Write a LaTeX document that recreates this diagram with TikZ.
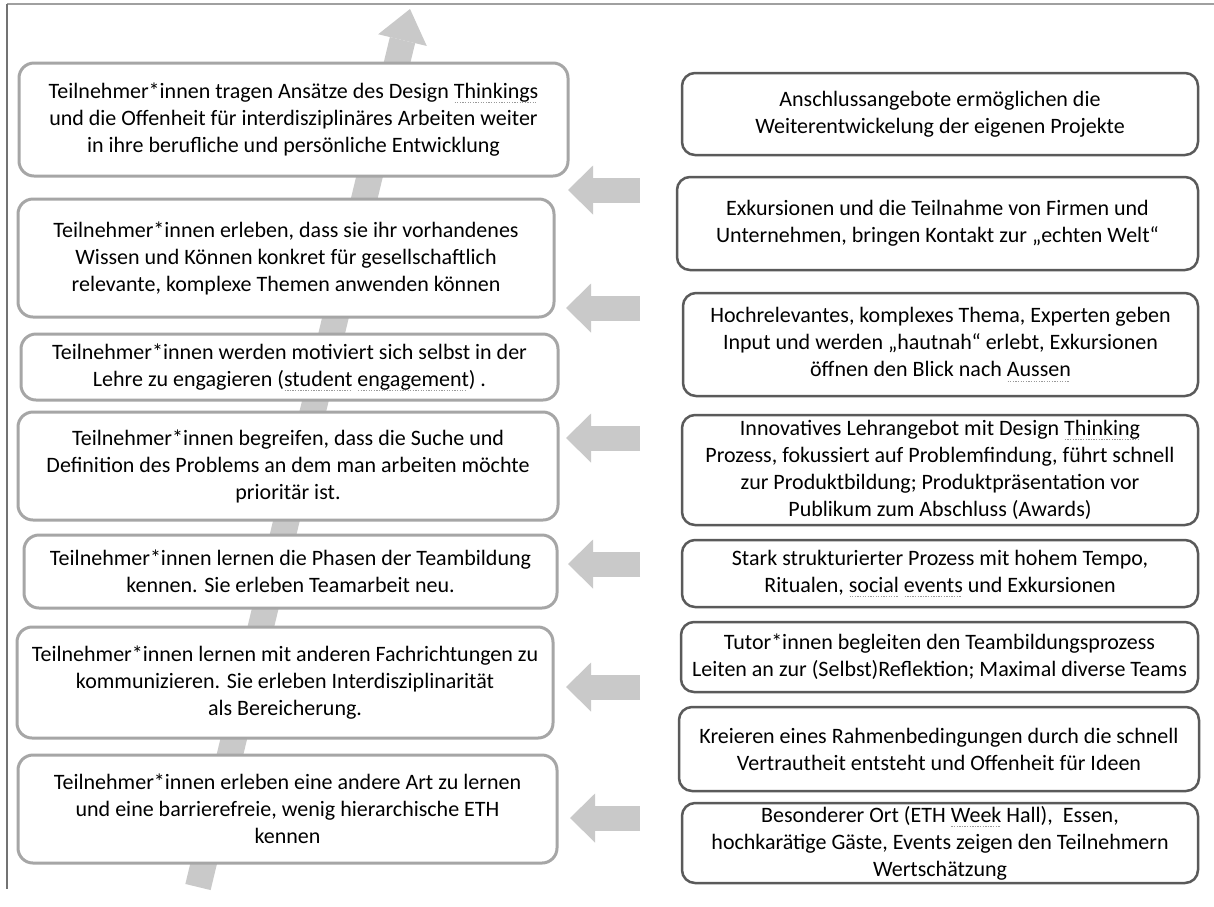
\documentclass[tikz,border=0pt]{standalone}
\usepackage{fontspec}
\setmainfont{Carlito}
\usetikzlibrary{arrows.meta}
\definecolor{arrowgray}{HTML}{C9C9C9}
\definecolor{leftborder}{HTML}{A6A6A6}
\definecolor{rightborder}{HTML}{5A5A5A}
\definecolor{frameline}{HTML}{A0A0A0}
\definecolor{spellgray}{HTML}{9A9A9A}
\newsavebox{\splbox}
\newcommand\spl[1]{\sbox{\splbox}{#1}\rlap{\raisebox{-4.5pt}{\textcolor{spellgray}{\leaders\hbox to 2.6pt{\hss\rule{1.3pt}{0.8pt}\hss}\hskip\wd\splbox}}}\usebox{\splbox}}
\tikzset{
  lbox/.style={draw=leftborder, line width=3pt, rounded corners=15pt, fill=white, align=center, inner sep=0pt},
  rbox/.style={draw=rightborder, line width=2.5pt, rounded corners=13pt, fill=white, align=center, inner sep=0pt},
  bigarrow/.style={draw=arrowgray, line width=26pt, -{Triangle[width=50pt,length=32pt,line width=0pt]}},
  sidearrow/.style={draw=arrowgray, line width=25pt, -{Triangle[width=49pt,length=25pt,line width=0pt]}}
}
\begin{document}
\begin{tikzpicture}[x=1pt,y=-1pt,font=\fontsize{22}{27}\selectfont]
\useasboundingbox (0,0) rectangle (1214,906);
\fill[white] (0,0) rectangle (1214,906);
% frame lines
\coordinate (fTL) at (7,4);
\coordinate (fTR) at (1214,4);
\coordinate (fBL) at (7,889);
\draw[frameline, line width=2pt] (fTL) -- (fTR);
\draw[black!55, line width=1.2pt] (fTL) -- (fBL);
% big diagonal arrow
\coordinate (bigtail) at (198,887);
\coordinate (bighead) at (410,9);
\draw[bigarrow] (bigtail) -- (bighead);
% left column
\node[lbox, minimum width=549pt, minimum height=113pt] (L1) at (293.5,119.5)
  {Teilnehmer*innen tragen Ansätze des Design \spl{Thinkings}\\und die Offenheit für interdisziplinäres Arbeiten weiter\\in ihre berufliche und persönliche Entwicklung};
\node[lbox, minimum width=536pt, minimum height=118pt] (L2) at (286,258)
  {Teilnehmer*innen erleben, dass sie ihr vorhandenes\\Wissen und Können konkret für gesellschaftlich\\relevante, komplexe Themen anwenden können};
\node[lbox, minimum width=537pt, minimum height=66pt] (L3) at (289.5,367)
  {Teilnehmer*innen werden motiviert sich selbst in der\\Lehre zu engagieren (\spl{student} \spl{engagement}) .};
\node[lbox, minimum width=540pt, minimum height=108pt] (L4) at (288,466)
  {Teilnehmer*innen begreifen, dass die Suche und\\Definition des Problems an dem man arbeiten möchte\\prioritär ist.};
\node[lbox, minimum width=533pt, minimum height=73pt] (L5) at (290.5,571.5)
  {Teilnehmer*innen lernen die Phasen der Teambildung\\kennen. Sie erleben Teamarbeit neu.};
\node[lbox, minimum width=536pt, minimum height=111pt] (L6) at (285,682.5)
  {Teilnehmer*innen lernen mit anderen Fachrichtungen zu\\kommunizieren. Sie erleben Interdisziplinarität\\als Bereicherung.};
\node[lbox, minimum width=539pt, minimum height=108pt] (L7) at (287.5,809)
  {Teilnehmer*innen erleben eine andere Art zu lernen\\und eine barrierefreie, wenig hierarchische ETH\\kennen};
% right column
\node[rbox, minimum width=516pt, minimum height=82pt] (R1) at (940,114)
  {Anschlussangebote ermöglichen die\\Weiterentwickelung der eigenen Projekte};
\node[rbox, minimum width=521pt, minimum height=93pt] (R2) at (937.5,223.5)
  {Exkursionen und die Teilnahme von Firmen und\\Unternehmen, bringen Kontakt zur „echten Welt“};
\node[rbox, minimum width=515pt, minimum height=103pt] (R3) at (940.5,344.5)
  {Hochrelevantes, komplexes Thema, Experten geben\\Input und werden „hautnah“ erlebt, Exkursionen\\öffnen den Blick nach \spl{Aussen}};
\node[rbox, minimum width=516pt, minimum height=110pt] (R4) at (940,470)
  {Innovatives Lehrangebot mit Design \spl{Thinking}\\Prozess, fokussiert auf Problemfindung, führt schnell\\zur Produktbildung; Produktpräsentation vor\\Publikum zum Abschluss (Awards)};
\node[rbox, minimum width=516pt, minimum height=67pt] (R5) at (940,573.5)
  {Stark strukturierter Prozess mit hohem Tempo,\\Ritualen, \spl{social} \spl{events} und Exkursionen};
\node[rbox, minimum width=517pt, minimum height=70pt] (R6) at (939.5,657)
  {Tutor*innen begleiten den Teambildungsprozess\\Leiten an zur (Selbst)Reflektion; Maximal diverse Teams};
\node[rbox, minimum width=520pt, minimum height=84pt] (R7) at (939,749)
  {Kreieren eines Rahmenbedingungen durch die schnell\\Vertrautheit entsteht und Offenheit für Ideen};
\node[rbox, minimum width=516pt, minimum height=80pt] (R8) at (940,843)
  {Besonderer Ort (ETH \spl{Week} Hall),\ \ Essen,\\hochkarätige Gäste, Events zeigen den Teilnehmern\\Wertschätzung};
% side arrows
\coordinate (a1s) at (640,190); \coordinate (a1t) at (568,190);
\coordinate (a2s) at (640,308); \coordinate (a2t) at (566,308);
\coordinate (a3s) at (640,438); \coordinate (a3t) at (566,438);
\coordinate (a4s) at (640,564); \coordinate (a4t) at (568,564);
\coordinate (a5s) at (640,687); \coordinate (a5t) at (566,687);
\coordinate (a6s) at (640,818); \coordinate (a6t) at (570,818);
\foreach \i in {1,...,6} \draw[sidearrow] (a\i s) -- (a\i t);
\end{tikzpicture}
\end{document}
